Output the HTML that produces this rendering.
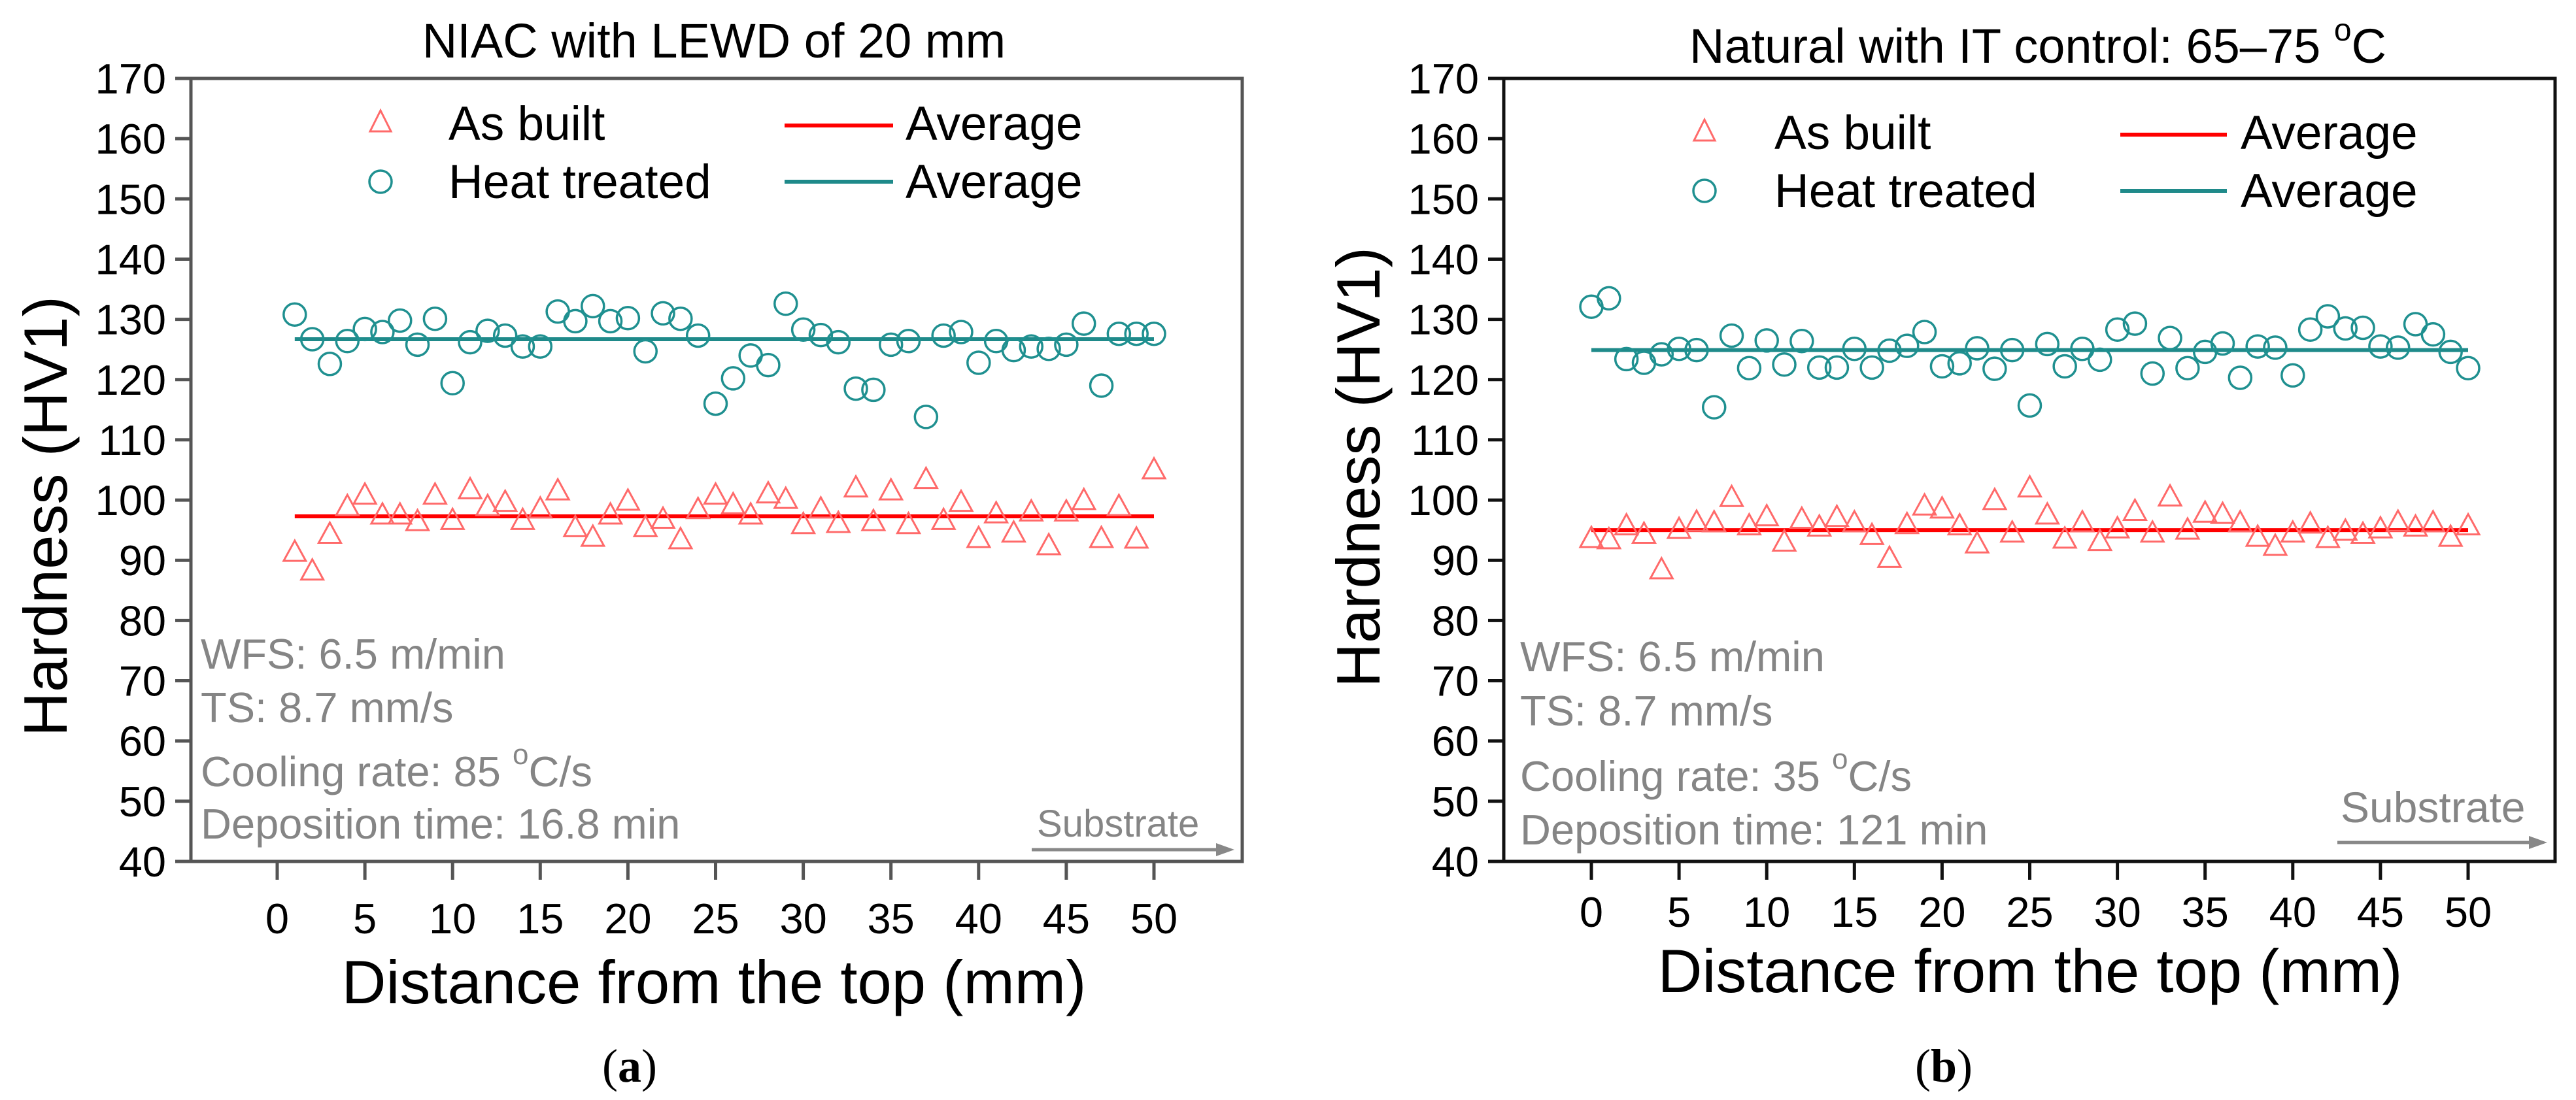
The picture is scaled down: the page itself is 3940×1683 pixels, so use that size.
<!DOCTYPE html>
<html><head><meta charset="utf-8"><style>
html,body{margin:0;padding:0;background:#fff;}
svg{display:block;font-family:"Liberation Sans",Arial,sans-serif;}
</style></head><body>
<svg id="fig" width="3940" height="1683" viewBox="0 0 3940 1683" xmlns="http://www.w3.org/2000/svg">
<rect width="3940" height="1683" fill="#fff"/>
</svg>
<script>
const yTicks=[40,50,60,70,80,90,100,110,120,130,140,150,160,170];
const xTicks=[0,5,10,15,20,25,30,35,40,45,50];
const aX=[1,2,3,4,5,6,7,8,9,10,11,12,13,14,15,16,17,18,19,20,21,22,23,24,25,26,27,28,29,30,31,32,33,34,35,36,37,38,39,40,41,42,43,44,45,46,47,48,49,50];
const aHeat=[130.8,126.7,122.6,126.4,128.4,127.9,129.8,125.8,130.1,119.4,126.2,128.1,127.3,125.5,125.5,131.3,129.7,132.2,129.7,130.2,124.7,131,130.1,127.3,116,120.2,124,122.4,132.6,128.3,127.4,126.2,118.5,118.3,125.8,126.4,113.8,127.3,127.9,122.8,126.4,124.9,125.5,125.1,125.8,129.3,119,127.6,127.6,127.6];
const aBuilt=[91.2,88.1,94.2,98.8,100.7,97.4,97.4,96.3,100.7,96.5,101.6,98.8,99.5,96.5,98.4,101.4,95.3,93.7,97.4,99.7,95.3,96.7,93.3,98.3,100.7,99.1,97.4,100.9,100,95.8,98.4,96,101.9,96.3,101.4,95.8,103.3,96.5,99.5,93.5,97.6,94.4,97.9,92.3,97.9,99.8,93.5,98.8,93.4,104.9];
const aAvgHeat=126.7, aAvgBuilt=97.3;
const bX=[0,1,2,3,4,5,6,7,8,9,10,11,12,13,14,15,16,17,18,19,20,21,22,23,24,25,26,27,28,29,30,31,32,33,34,35,36,37,38,39,40,41,42,43,44,45,46,47,48,49,50];
const bHeat=[132.1,133.5,123.4,122.8,124.2,125.1,124.9,115.4,127.3,121.9,126.5,122.5,126.4,122,122,125.1,122,124.8,125.6,127.9,122.2,122.7,125.2,121.8,124.9,115.7,125.9,122.2,125.1,123.3,128.3,129.3,121,126.9,121.9,124.6,126,120.3,125.5,125.3,120.7,128.3,130.5,128.5,128.6,125.5,125.3,129.2,127.5,124.6,121.9];
const bBuilt=[93.5,93.3,95.6,94.2,88.3,95,96.2,96.1,100.3,95.6,97.1,92.9,96.7,95.4,97,96.1,94,90.2,95.8,98.9,98.4,95.6,92.6,99.8,94.4,101.9,97.4,93.4,96.1,93,95.1,98,94.4,100.4,94.9,97.7,97.5,96.1,93.7,92.2,94.4,95.9,93.5,94.7,94.2,95.1,96.2,95.4,96.1,93.7,95.6];
const bAvgHeat=124.9, bAvgBuilt=95.0;

const NS="http://www.w3.org/2000/svg";
const svg=document.getElementById('fig');
function el(tag,attrs,parent,txt){const e=document.createElementNS(NS,tag);for(const k in attrs)e.setAttribute(k,attrs[k]);if(txt!==undefined)e.textContent=txt;(parent||svg).appendChild(e);return e;}

function panel(cfg){
  const g=el('g',{});
  
  
  const sx=v=>cfg.x0+(v-0)*(cfg.x50-cfg.x0)/50;
  const sy=v=>cfg.yB+(v-40)*(cfg.yT-cfg.yB)/130;
  const fr=el('rect',{x:cfg.L,y:cfg.yT,width:cfg.R-cfg.L,height:cfg.yB-cfg.yT,fill:'none',stroke:cfg.axc,'stroke-width':5},g);
  
  
  yTicks.forEach(t=>{
    const y=sy(t);
    el('line',{x1:cfg.L-24,x2:cfg.L,y1:y,y2:y,stroke:cfg.axc,'stroke-width':5},g);
    const lb=el('text',{x:cfg.L-38,y:y+23,'font-size':65,'text-anchor':'end',fill:'#000'},g,String(t));
    
    
  });
  xTicks.forEach(t=>{
    const x=sx(t);
    el('line',{x1:x,x2:x,y1:cfg.yB,y2:cfg.yB+28,stroke:cfg.axc,'stroke-width':5},g);
    const lb=el('text',{x:x,y:cfg.xlY,'font-size':65,'text-anchor':'middle',fill:'#000'},g,String(t));
    
    
  });
  const tt=el('text',{x:cfg.titleX,y:cfg.titleY,'font-size':74,'text-anchor':'middle',fill:'#000'},g);
  tt.innerHTML=cfg.title;
  
  
  const xt=el('text',{x:cfg.xtX,y:cfg.xtY,'font-size':94,'text-anchor':'middle',fill:'#000'},g,'Distance from the top (mm)');
  
  
  const yt=el('text',{x:0,y:0,'font-size':94,'text-anchor':'middle',fill:'#000',transform:`translate(${cfg.ytX},${cfg.ytY}) rotate(-90)`},g,'Hardness (HV1)');
  
  
  const pl=el('text',{x:cfg.plX,y:1655,'font-size':72,'text-anchor':'middle',fill:'#000','font-family':'"Liberation Serif",serif'},g);
  pl.innerHTML='(<tspan font-weight="bold">'+cfg.letter+'</tspan>)';
  
  
  const xs=cfg.xs;
  const la=el('line',{x1:sx(xs[0]),x2:sx(xs[xs.length-1]),y1:sy(cfg.avgB),y2:sy(cfg.avgB),stroke:'#ff0000','stroke-width':6},g);
  
  
  const lh=el('line',{x1:sx(xs[0]),x2:sx(xs[xs.length-1]),y1:sy(cfg.avgH),y2:sy(cfg.avgH),stroke:'#1f8a8a','stroke-width':6},g);
  
  
  xs.forEach((xv,i)=>{
    const x=sx(xv),y=sy(cfg.built[i]);
    const tri=el('polygon',{points:`${x},${y-19} ${x-17},${y+12} ${x+17},${y+12}`,fill:'none',stroke:'#ff6a6a','stroke-width':3},g);
    
    
  });
  xs.forEach((xv,i)=>{
    const c=el('circle',{cx:sx(xv),cy:sy(cfg.heat[i]),r:17,fill:'none',stroke:'#1f9090','stroke-width':3.5},g);
    
    
  });
  const lg=el('g',{},g);
  
  
  const L=cfg.leg;
  el('polygon',{points:`${L.mx},${L.y1-19} ${L.mx-16},${L.y1+13} ${L.mx+16},${L.y1+13}`,fill:'none',stroke:'#ff6a6a','stroke-width':3},lg);
  el('circle',{cx:L.mx,cy:L.y2,r:17,fill:'none',stroke:'#1f9090','stroke-width':3.5},lg);
  el('text',{x:L.tx,y:L.y1+26,'font-size':73,fill:'#000'},lg,'As built');
  el('text',{x:L.tx,y:L.y2+25,'font-size':73,fill:'#000'},lg,'Heat treated');
  el('line',{x1:L.lx1,x2:L.lx2,y1:L.y1+4,y2:L.y1+4,stroke:'#ff0000','stroke-width':6},lg);
  el('line',{x1:L.lx1,x2:L.lx2,y1:L.y2,y2:L.y2,stroke:'#1f8a8a','stroke-width':6},lg);
  el('text',{x:L.ax,y:L.y1+26,'font-size':73,fill:'#000'},lg,'Average');
  el('text',{x:L.ax,y:L.y2+25,'font-size':73,fill:'#000'},lg,'Average');
  const an=el('g',{fill:'#858585','font-size':65},g);
  
  
  el('text',{x:cfg.annX,y:cfg.annY[0]},an,'WFS: 6.5 m/min');
  el('text',{x:cfg.annX,y:cfg.annY[1]},an,'TS: 8.7 mm/s');
  const cr=el('text',{x:cfg.annX,y:cfg.annY[2]},an);
  cr.innerHTML='Cooling rate: '+cfg.cool+' <tspan font-size="44" dy="-34">o</tspan><tspan dy="34">C/s</tspan>';
  el('text',{x:cfg.annX,y:cfg.annY[3]},an,'Deposition time: '+cfg.dep);
  const sb=el('g',{},g);
  
  
  el('text',{x:cfg.sub.tx,y:cfg.sub.ty,'font-size':cfg.sub.fs,fill:'#858585'},sb,'Substrate');
  el('line',{x1:cfg.sub.x1,x2:cfg.sub.x2-22,y1:cfg.sub.y,y2:cfg.sub.y,stroke:'#888','stroke-width':5},sb);
  el('polygon',{points:`${cfg.sub.x2},${cfg.sub.y} ${cfg.sub.x2-28},${cfg.sub.y-10} ${cfg.sub.x2-28},${cfg.sub.y+10}`,fill:'#888'},sb);
}

panel({name:'panel-a',L:292,R:1900,yT:120,yB:1318,x0:424,x50:1765,axc:'#555',
  xlY:1428,title:'NIAC with LEWD of 20 mm',titleX:1092,titleY:88,xtX:1092,xtY:1535,ytX:102,ytY:790,plX:963,letter:'a',
  xs:aX,heat:aHeat,built:aBuilt,avgH:aAvgHeat,avgB:aAvgBuilt,
  leg:{mx:582,y1:188,y2:278,tx:686,lx1:1200,lx2:1366,ax:1385},
  annX:307,annY:[1023,1105,1203,1283],cool:'85',dep:'16.8 min',
  sub:{tx:1586,ty:1280,fs:58,x1:1578,x2:1888,y:1300}});
panel({name:'panel-b',L:2300,R:3908,yT:120,yB:1318,x0:2434,x50:3775,axc:'#111',
  xlY:1418,title:'Natural with IT control: 65–75 <tspan font-size="48" dy="-34">o</tspan><tspan dy="34">C</tspan>',titleX:3117,titleY:96,xtX:3105,xtY:1518,ytX:2110,ytY:715,plX:2973,letter:'b',
  xs:bX,heat:bHeat,built:bBuilt,avgH:bAvgHeat,avgB:bAvgBuilt,
  leg:{mx:2607,y1:202,y2:292,tx:2714,lx1:3243,lx2:3406,ax:3427},
  annX:2325,annY:[1027,1110,1210,1292],cool:'35',dep:'121 min',
  sub:{tx:3580,ty:1258,fs:66,x1:3575,x2:3896,y:1289}});
</script>
</body></html>
